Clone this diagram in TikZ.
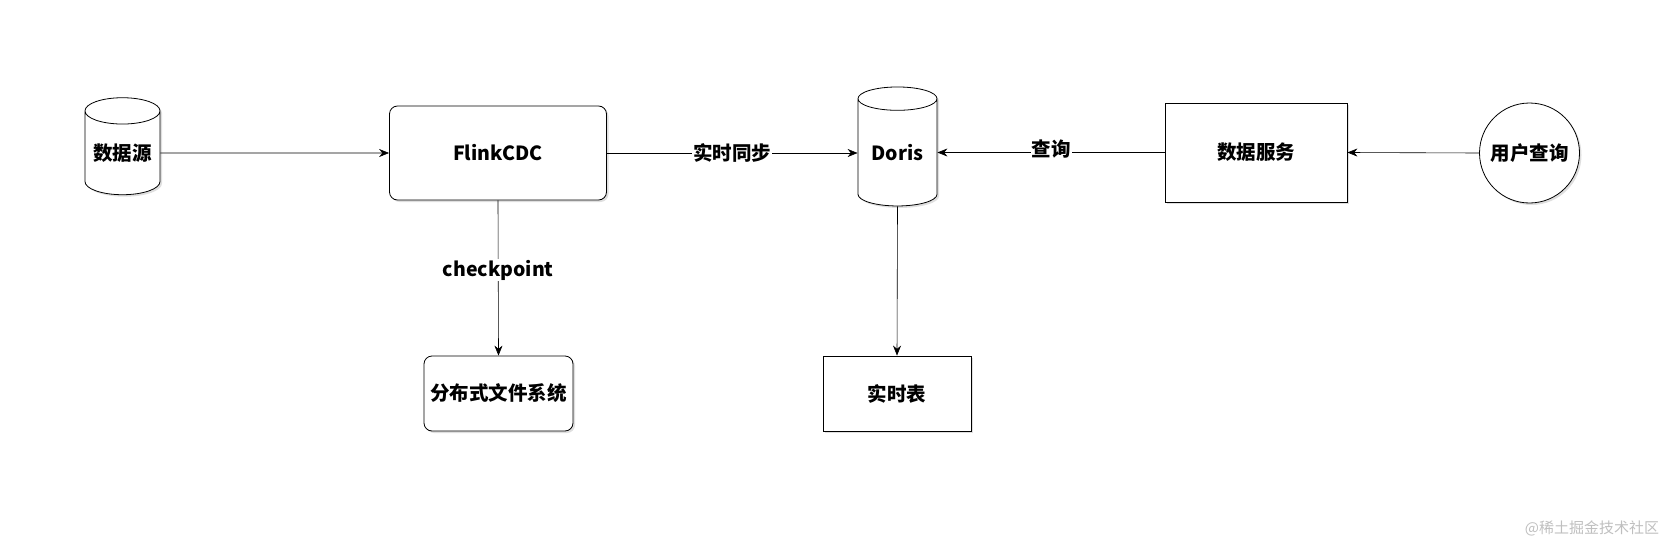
\documentclass[tikz,border=0pt]{standalone}
\usepackage{fontspec}
\setmainfont{Noto Sans CJK SC}
\usetikzlibrary{shapes.geometric,shadows,arrows.meta}
\begin{document}
\begin{tikzpicture}[x=1pt,y=-1pt,
  every node/.style={font=\bfseries\fontsize{19.5}{22}\selectfont},
  sh/.style={drop shadow={shadow xshift=2pt,shadow yshift=-2pt,opacity=0.25,fill=gray}},
  box/.style={draw,thick,fill=white,sh,align=center,inner sep=0pt},
  cyl/.style={box,cylinder,shape border rotate=90,aspect=0.45},
  arr/.style={draw,-{Stealth[length=10pt,width=8pt]},semithick},
  lab/.style={fill=white,inner sep=1pt}]
\useasboundingbox (0,0) rectangle (1679,546);
\node[cyl,minimum height=97pt,minimum width=75pt] (src) at (122.5,153) {数据源};
\node[box,rounded corners=8pt,minimum width=217pt,minimum height=94pt] (flink) at (498,153) {FlinkCDC};
\node[cyl,minimum height=119pt,minimum width=79pt] (doris) at (897.5,152.5) {Doris};
\node[box,minimum width=182pt,minimum height=99pt] (svc) at (1256,152.5) {数据服务};
\node[box,circle,minimum size=100pt] (user) at (1529.5,153) {用户查询};
\node[box,rounded corners=8pt,minimum width=149pt,minimum height=75pt] (dfs) at (498.5,393.5) {分布式文件系统};
\node[box,minimum width=148pt,minimum height=75pt] (rt) at (897,393.5) {实时表};
\path[arr] (src.east) -- (flink.west);
\path[arr] (flink.east) -- node[lab,pos=0.5]{实时同步} (doris.west|-flink.east);
\path[arr] (svc.west) -- node[lab,pos=0.5,yshift=3pt]{查询} (doris.east|-svc.west);
\path[arr] (user.west) -- (svc.east);
\path[arr] (flink.south) -- node[lab,pos=0.45]{checkpoint} (dfs.north);
\path[arr] (doris.south) -- (rt.north);
\node[text=gray!50,font=\fontsize{15}{17}\selectfont] (wm) at (1592,528) {@稀土掘金技术社区};
\end{tikzpicture}
\end{document}
